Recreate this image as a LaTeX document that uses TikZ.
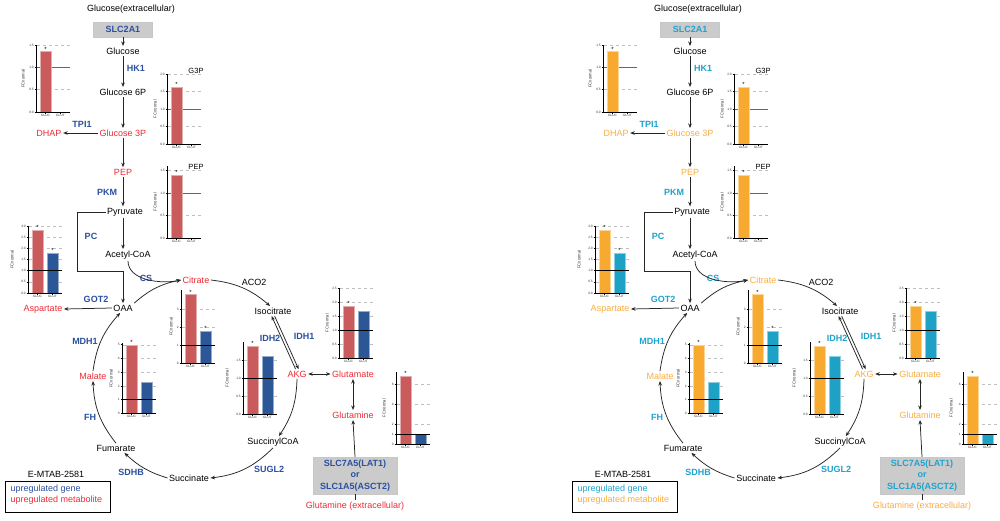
\documentclass[tikz,border=0pt]{standalone}
\usepackage{fontspec}
\setmainfont{Liberation Sans}
\usetikzlibrary{arrows.meta}
\definecolor{geneA}{HTML}{2B50A0}
\definecolor{metA}{HTML}{EE2B36}
\definecolor{glucA}{HTML}{C95B5C}
\definecolor{glutA}{HTML}{2C5797}
\definecolor{geneB}{HTML}{1FA3CF}
\definecolor{metB}{HTML}{F9AE40}
\definecolor{glucB}{HTML}{F8AA30}
\definecolor{glutB}{HTML}{1DA2C5}
\definecolor{boxgray}{HTML}{CBCBCB}
\tikzset{
  met/.style={font=\fontsize{9}{10}\selectfont, inner sep=1.5pt, text=black},
  redm/.style={met, text=metc},
  gene/.style={font=\fontsize{9}{10}\selectfont\bfseries, inner sep=1pt, text=genec},
  tbox/.style={gene, fill=boxgray, draw=black!22, line width=0.4pt},
  arr/.style={draw=black!85, line width=0.75pt, -{Stealth[length=4.5pt,width=3.6pt]}},
  darr/.style={draw=black!85, line width=0.75pt, {Stealth[length=4.5pt,width=3.6pt]}-{Stealth[length=4.5pt,width=3.6pt]}},
  pln/.style={draw=black!85, line width=0.75pt},
  axln/.style={draw=black, line width=0.7pt},
  gridln/.style={draw=black!25, line width=0.5pt, dash pattern=on 3pt off 3pt},
  refln/.style={line width=0.7pt},
  ticklab/.style={font=\fontsize{3.2}{3.5}\selectfont, inner sep=0.3pt, anchor=east, text=black!80},
  xlab/.style={font=\fontsize{3.2}{3.5}\selectfont, inner sep=0.3pt, anchor=north, text=black!80},
  fclab/.style={font=\fontsize{4.2}{4.5}\selectfont, inner sep=0pt, rotate=90, text=black!80},
  starlab/.style={font=\fontsize{6}{6}\selectfont, inner sep=0pt, anchor=base},
  ttl/.style={font=\fontsize{7.5}{8}\selectfont, inner sep=0.5pt}
}
% #1 origin, #2 unit px, #3 axis top value, #4 ticks, #5 GLUC, #6 GLUT (0 none), #7 GLUT star, #8 FC label x, #9 ref colour
\newcommand\fcchart[9]{%
\begin{scope}[shift={#1}]
  \foreach \tkv/\tkl in {#4}{%
    \ifdim\tkv pt=0pt\else\ifdim\tkv pt=1pt\else
      \draw[gridln] (1,-\tkv*#2) -- (34,-\tkv*#2);
    \fi\fi
    \draw[axln] (-1.5,-\tkv*#2) -- (0,-\tkv*#2);
    \node[ticklab] at (-1.8,-\tkv*#2) {\tkl};
  }
  \ifdim#6pt=0pt \draw[refln,draw=#9] (0,-#2) -- (34,-#2);\fi
  \filldraw[fill=glucc, draw=glucc!50!white, line width=0.5pt] (4,0) rectangle (15,-#5*#2);
  \node[starlab] at (9.5,-#5*#2-0.6) {*};
  \ifdim#6pt=0pt\else
    \filldraw[fill=glutc, draw=glutc!50!white, line width=0.5pt] (19,0) rectangle (30,-#6*#2);
    \draw[refln,draw=#9] (0,-#2) -- (34,-#2);
  \fi
  \ifnum#7=1 \node[starlab] at (24.5,-#6*#2-0.6) {*};\fi
  \draw[axln] (0,0.35) -- (0,-#3*#2);
  \draw[axln] (-0.35,0) -- (34,0);
  \draw[axln] (9.5,0) -- (9.5,1.5);
  \draw[axln] (24.5,0) -- (24.5,1.5);
  \node[xlab] at (9.5,1.7) {GLUC};
  \node[xlab] at (24.5,1.7) {GLUT};
  \node[fclab] at (#8,-#3*#2/2) {FCnormal};
\end{scope}}
\newcommand\drawpanel[4]{%
\colorlet{genec}{#1}\colorlet{metc}{#2}\colorlet{glucc}{#3}\colorlet{glutc}{#4}%
% glycolysis column
\node[met] (gext) at (131,9.5) {Glucose(extracellular)};
\node[tbox, minimum width=59pt, minimum height=15pt] (slc2a1) at (123,29.5) {SLC2A1};
\node[met] (glc) at (123,51) {Glucose};
\node[gene] (hk1) at (136,68) {HK1};
\node[met] (g6p) at (123,92) {Glucose 6P};
\node[redm] (g3p) at (123,133) {Glucose 3P};
\node[redm] (dhap) at (49,133) {DHAP};
\node[gene] (tpi1) at (82,124) {TPI1};
\node[redm] (pep) at (123,172) {PEP};
\node[gene] (pkm) at (107,192) {PKM};
\node[met] (pyr) at (125,212) {Pyruvate};
\node[gene] (pc) at (91,236) {PC};
\node[met] (acoa) at (128,255) {Acetyl-CoA};
\coordinate (pcc) at (77,271);
% TCA cycle
\node[met] (oaa) at (123,308) {OAA};
\node[redm] (asp) at (43,309) {Aspartate};
\node[gene] (got2) at (96,299) {GOT2};
\node[gene] (cs) at (146,278) {CS};
\node[redm] (cit) at (196,280) {Citrate};
\node[met] (aco2) at (254,282) {ACO2};
\node[met] (iso) at (273,311) {Isocitrate};
\node[gene] (idh2) at (270,338) {IDH2};
\node[gene] (idh1) at (304,336) {IDH1};
\node[redm] (akg) at (297,374) {AKG};
\node[met] (scoa) at (273,442) {SuccinylCoA};
\node[gene] (sugl2) at (269,469) {SUGL2};
\node[met] (succ) at (189,478) {Succinate};
\node[gene] (sdhb) at (131,472) {SDHB};
\node[met] (fum) at (116,448) {Fumarate};
\node[gene] (fh) at (90,417) {FH};
\node[redm] (mal) at (93,376) {Malate};
\node[gene] (mdh1) at (85,341) {MDH1};
% glutamine branch
\node[redm] (glu) at (353,374) {Glutamate};
\node[redm] (gln) at (353,415) {Glutamine};
\node[tbox, minimum width=84pt, minimum height=37pt, align=center, font=\fontsize{9}{11.5}\selectfont\bfseries] (slc7) at (355,475.5) {SLC7A5(LAT1)\\or\\SLC1A5(ASCT2)};
\node[redm] (glnext) at (355,506) {Glutamine (extracellular)};
% legend
\node[met] (emtab) at (56,474.5) {E-MTAB-2581};
\node[draw=black, line width=0.8pt, minimum width=105pt, minimum height=31pt, inner sep=0pt] (legbox) at (57.5,496.5) {};
\node[met, text=genec, anchor=west] (leg1) at (9,489) {upregulated gene};
\node[met, text=metc, anchor=west] (leg2) at (9,500) {upregulated metabolite};
% connectors
\draw[arr] (slc2a1.south) -- (glc.north);
\draw[arr] (glc.south) -- (g6p.north);
\draw[arr] (g6p.south) -- (g3p.north);
\draw[arr] (g3p.west) -- (dhap.east);
\draw[arr] (g3p.south) -- (pep.north);
\draw[arr] (pep.south) -- (pep.south |- pyr.north);
\draw[arr] (pep.south |- pyr.south) -- (pep.south |- acoa.north);
\draw[arr] (pyr.west) -| (pcc) -| (oaa.north);
\draw[arr] (oaa.west) -- (asp.east);
\draw[arr] (acoa.south) to[out=-90, in=192, looseness=0.9] (cit.west);
\draw[arr] (oaa.north east) to[bend left=15] (cit.west);
\draw[arr] (cit.east) to[bend left=17] (iso.120);
\draw[arr] ([xshift=1.6pt]iso.south) -- ([xshift=1.6pt]akg.north);
\draw[arr] ([xshift=-1.4pt]akg.north) -- ([xshift=-1.4pt]iso.south);
\draw[arr] (akg.south) to[bend left=16] (scoa.45);
\draw[arr] (scoa.south) to[bend left=19] (succ.east);
\draw[arr] (succ.west) to[bend left=13] (fum.-30);
\draw[arr] (fum.north) to[bend left=18] (mal.south);
\draw[arr] (mal.north) to[bend left=17] (oaa.-120);
\draw[darr] (akg.east) -- (glu.west);
\draw[darr] (glu.south) -- (gln.north);
\draw[arr] (slc7.north) -- (gln.south);
\draw[pln] (glnext.north) -- (slc7.south);
% bar charts
\fcchart{(36,112)}{44.7}{1.5}{0.0/0.0,0.5/0.5,1.0/1.0,1.5/1.5}{1.35}{0}{0}{-13}{black!60}
\fcchart{(167,144)}{35}{2.0}{0.0/0.0,0.5/0.5,1.0/1.0,1.5/1.5,2.0/2.0}{1.63}{0}{0}{-12}{black!60}
\node[ttl] (t-g3p) at (196,71) {G3P};
\fcchart{(167,238)}{45}{1.6}{0.0/0.0,0.5/0.5,1.0/1.0,1.5/1.5}{1.4}{0}{0}{-12}{black!60}
\node[ttl] (t-pep) at (196,167) {PEP};
\fcchart{(28,293)}{22.3}{3.0}{0.0/0.0,0.5/0.5,1.0/1.0,1.5/1.5,2.0/2.0,2.5/2.5,3.0/3.0}{2.82}{1.8}{1}{-16}{black}
\fcchart{(181,363)}{18}{4.05}{0/0,1/1,2/2,3/3}{3.8}{1.78}{1}{-10}{black}
\fcchart{(122,413.5)}{13.75}{5.1}{0/0,1/1,2/2,3/3,4/4,5/5}{5.0}{2.3}{0}{-11}{black}
\fcchart{(243,414)}{36}{2.0}{0.0/0.0,0.5/0.5,1.0/1.0,1.5/1.5}{1.89}{1.61}{0}{-16}{black}
\fcchart{(339,358)}{28}{2.5}{0.0/0.0,0.5/0.5,1.0/1.0,1.5/1.5,2.0/2.0,2.5/2.5}{1.85}{1.68}{0}{-12}{black}
\fcchart{(396,444)}{10}{7.2}{0/0,1/1,2/2,4/4,6/6}{6.8}{1.0}{0}{-12}{black}
}
\begin{document}
\begin{tikzpicture}[x=1pt,y=-1pt]
\useasboundingbox (0,0) rectangle (1000,520);
\fill[white] (0,0) rectangle (1000,520);
\begin{scope}[name prefix=L-]
\drawpanel{geneA}{metA}{glucA}{glutA}
\end{scope}
\begin{scope}[xshift=567pt, name prefix=R-]
\drawpanel{geneB}{metB}{glucB}{glutB}
\end{scope}
\end{tikzpicture}
\end{document}
